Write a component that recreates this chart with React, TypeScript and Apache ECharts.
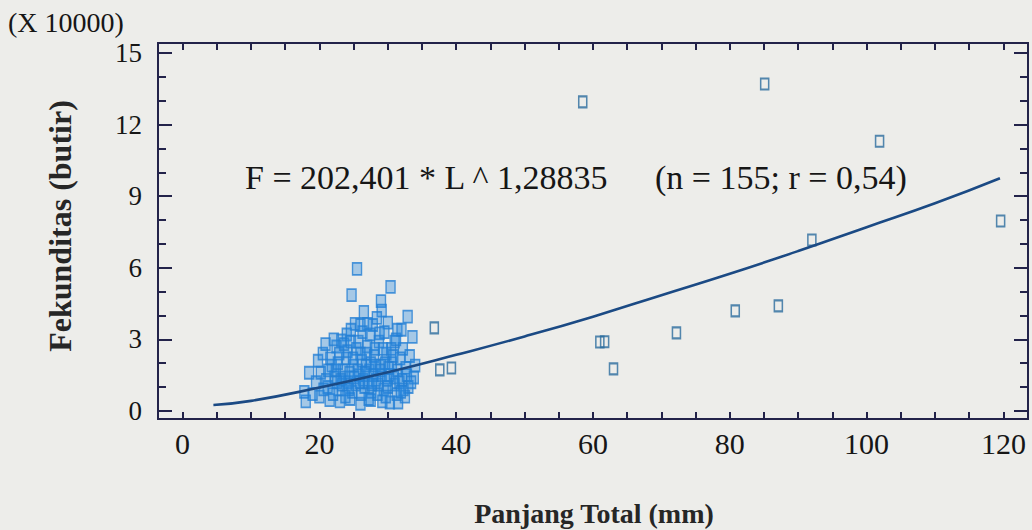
import React, { useEffect, useRef } from "react";
import * as echarts from "echarts";

// Tick values / labels
const xTickValues = [0, 5, 10, 15, 20, 25, 30, 35, 40, 45, 50, 55, 60, 65, 70, 75, 80, 85, 90, 95, 100, 105, 110, 115, 120];
const xLabelValues = [0, 20, 40, 60, 80, 100, 120];
const yMajorValues = [0, 3, 6, 9, 12, 15];
const yMinorValues = [1, 2, 4, 5, 7, 8, 10, 11, 13, 14];

// Fish: total length (mm) vs fecundity (x 10000 eggs)
const clusterPoints: [number, number][] = [
  [25.5, 5.95], [24.7, 4.85], [30.4, 5.2], [29.0, 4.6], [26.5, 4.15], [29.1, 4.2], [32.9, 3.95], [33.6, 3.1],
  [27.8, 3.6], [28.4, 3.9], [25.2, 3.65], [27.0, 3.65], [31.4, 3.4], [30.0, 3.7], [24.0, 3.2], [23.2, 2.95],
  [22.5, 2.7], [26.3, 3.3], [28.8, 3.25], [31.0, 2.9], [32.2, 2.6], [33.2, 2.3], [34.0, 1.9], [33.8, 1.4],
  [33.0, 1.0], [32.5, 0.6], [31.5, 0.35], [30.3, 0.35], [29.2, 0.4], [27.5, 0.45], [26.0, 0.3], [24.5, 0.5],
  [23.0, 0.4], [21.5, 0.45], [20.0, 0.6], [18.0, 0.4], [17.8, 0.8], [19.5, 1.2], [20.2, 1.6], [19.8, 2.1],
  [20.5, 2.4], [21.2, 1.0], [21.8, 1.9], [22.2, 1.4], [22.8, 0.9], [23.4, 1.7], [23.9, 2.2], [24.2, 1.2],
  [24.8, 0.8], [25.0, 1.9], [25.4, 2.6], [25.8, 1.5], [26.2, 2.1], [26.6, 1.0], [27.0, 2.7], [27.3, 1.7],
  [27.6, 0.8], [28.0, 2.3], [28.3, 1.3], [28.7, 2.9], [29.0, 1.9], [29.4, 0.9], [29.8, 2.4], [30.2, 1.5],
  [30.6, 2.0], [31.0, 1.1], [31.4, 1.7], [31.8, 2.2], [32.1, 1.3], [32.6, 1.8], [21.0, 1.3], [21.6, 2.2],
  [22.0, 0.7], [22.4, 1.7], [22.9, 2.4], [23.3, 1.1], [23.7, 1.4], [24.1, 2.5], [24.4, 1.6], [24.9, 2.2],
  [25.3, 1.1], [25.6, 1.7], [26.0, 2.4], [26.4, 1.3], [26.8, 1.9], [27.1, 1.2], [27.5, 2.0], [27.9, 1.5],
  [28.2, 1.9], [28.6, 1.1], [29.1, 1.5], [29.6, 2.0], [30.0, 1.0], [30.5, 2.6], [30.9, 1.4], [31.3, 0.7],
  [31.7, 1.2], [32.3, 0.9], [32.8, 1.5], [33.4, 1.2], [20.6, 0.9], [21.3, 1.7], [22.7, 2.0], [23.6, 2.8],
  [24.6, 2.9], [25.7, 2.9], [26.9, 2.4], [28.1, 2.6], [29.3, 2.6], [30.8, 2.3], [26.1, 0.7], [27.2, 0.5],
  [28.5, 0.7], [29.7, 0.6], [24.3, 0.9], [23.1, 1.3], [25.1, 1.4], [26.7, 1.6], [28.9, 1.7], [30.1, 1.8],
  [19.0, 0.7], [18.5, 1.6], [20.9, 2.8], [22.1, 3.0], [24.6, 3.4], [26.0, 3.6], [27.4, 3.2], [29.5, 3.3],
  [31.2, 3.0], [32.0, 3.4], [25.9, 1.2], [27.7, 1.1], [23.8, 0.6], [22.6, 1.2], [29.9, 1.3], [31.9, 0.8],
];

const otherPoints: [number, number][] = [
  [58.5, 12.95], [85.1, 13.7], [101.9, 11.3], [119.6, 7.96], [92.0, 7.16], [80.8, 4.19], [87.1, 4.4],
  [72.2, 3.27], [61.0, 2.89], [61.7, 2.9], [63.0, 1.76], [36.8, 3.48], [37.6, 1.72], [39.3, 1.8],
];

// Fitted curve F = 202,401 * L ^ 1,28835
const fitLine: [number, number][] = [
  [4.5, 0.25], [10, 0.42], [20, 0.98], [30, 1.62], [40, 2.35], [50, 3.12], [60, 3.95],
  [70, 4.85], [80, 5.75], [90, 6.7], [100, 7.7], [110, 8.7], [119.5, 9.75],
];

const FONT = "'Liberation Serif', 'DejaVu Serif', serif";
const AXIS_COLOR = "#23234a";
const TEXT_COLOR = "#161616";

export default function App() {
  const ref = useRef<HTMLDivElement>(null);

  useEffect(() => {
    if (!ref.current) return;
    const chart = echarts.init(ref.current, null, { renderer: "svg" });

    const xMin = -3.6;
    const xMax = 123.6;
    const yMin = -0.34;
    const yMax = 15.42;

    const baseX = {
      type: "value" as const,
      min: xMin,
      max: xMax,
      splitLine: { show: false },
      axisLine: { show: true, onZero: false, lineStyle: { color: AXIS_COLOR, width: 2 } },
    };
    const baseY = {
      type: "value" as const,
      min: yMin,
      max: yMax,
      splitLine: { show: false },
      axisLine: { show: true, onZero: false, lineStyle: { color: AXIS_COLOR, width: 2 } },
    };

    chart.setOption({
      animation: false,
      backgroundColor: "#ededea",
      grid: { left: 158, right: 4, top: 43, bottom: 111, containLabel: false },
      xAxis: [
        {
          ...baseX,
          position: "bottom",
          axisTick: { show: true, inside: true, length: 7, customValues: xTickValues, lineStyle: { color: AXIS_COLOR, width: 2 } },
          axisLabel: {
            show: true,
            customValues: xLabelValues,
            fontFamily: FONT,
            fontSize: 30,
            color: TEXT_COLOR,
            margin: 9,
          },
        },
        {
          ...baseX,
          position: "top",
          axisTick: { show: true, inside: true, length: 7, customValues: xTickValues, lineStyle: { color: AXIS_COLOR, width: 2 } },
          axisLabel: { show: false },
        },
      ],
      yAxis: [
        {
          ...baseY,
          position: "left",
          axisTick: { show: true, inside: true, length: 14, customValues: yMajorValues, lineStyle: { color: AXIS_COLOR, width: 2 } },
          axisLabel: {
            show: true,
            customValues: yMajorValues,
            fontFamily: FONT,
            fontSize: 27,
            color: TEXT_COLOR,
            margin: 16,
          },
        },
        {
          ...baseY,
          position: "left",
          axisTick: { show: true, inside: true, length: 8, customValues: yMinorValues, lineStyle: { color: AXIS_COLOR, width: 2 } },
          axisLabel: { show: false },
        },
        {
          ...baseY,
          position: "right",
          axisTick: { show: true, inside: true, length: 14, customValues: yMajorValues, lineStyle: { color: AXIS_COLOR, width: 2 } },
          axisLabel: { show: false },
        },
        {
          ...baseY,
          position: "right",
          axisTick: { show: true, inside: true, length: 8, customValues: yMinorValues, lineStyle: { color: AXIS_COLOR, width: 2 } },
          axisLabel: { show: false },
        },
      ],
      series: [
        {
          type: "scatter",
          xAxisIndex: 0,
          yAxisIndex: 0,
          symbol: "rect",
          symbolSize: [9, 12],
          data: clusterPoints,
          itemStyle: { color: "rgba(40,135,225,0.45)", borderColor: "#2480d4", borderWidth: 1.6 },
          z: 2,
        },
        {
          type: "scatter",
          xAxisIndex: 0,
          yAxisIndex: 0,
          symbol: "rect",
          symbolSize: [8, 11],
          data: otherPoints,
          itemStyle: { color: "rgba(255,255,255,0)", borderColor: "#2a6c9e", borderWidth: 1.8 },
          z: 2,
        },
        {
          type: "line",
          xAxisIndex: 0,
          yAxisIndex: 0,
          data: fitLine,
          smooth: true,
          showSymbol: false,
          lineStyle: { color: "#1b4a84", width: 2.6 },
          z: 3,
        },
      ],
      graphic: [
        {
          type: "text",
          left: 8,
          top: 8,
          style: { text: "(X 10000)", font: `28px ${FONT}`, fill: TEXT_COLOR },
        },
        {
          type: "text",
          x: 245,
          y: 177,
          style: {
            text: "F = 202,401 * L ^ 1,28835",
            font: `34px ${FONT}`,
            fill: TEXT_COLOR,
            verticalAlign: "middle",
            align: "left",
          },
        },
        {
          type: "text",
          x: 655,
          y: 177,
          style: {
            text: "(n = 155; r = 0,54)",
            font: `34px ${FONT}`,
            fill: TEXT_COLOR,
            verticalAlign: "middle",
            align: "left",
          },
        },
        {
          type: "text",
          x: 60,
          y: 226,
          rotation: Math.PI / 2,
          style: {
            text: "Fekunditas (butir)",
            font: `bold 32px ${FONT}`,
            fill: "#262626",
            align: "center",
            verticalAlign: "middle",
          },
        },
        {
          type: "text",
          x: 594,
          y: 513,
          style: {
            text: "Panjang Total (mm)",
            font: `bold 28px ${FONT}`,
            fill: "#262626",
            align: "center",
            verticalAlign: "middle",
          },
        },
      ],
    });

    return () => chart.dispose();
  }, []);

  return (
    <div
      ref={ref}
      style={{ position: "absolute", left: 0, top: 0, width: 1032, height: 530 }}
    />
  );
}
